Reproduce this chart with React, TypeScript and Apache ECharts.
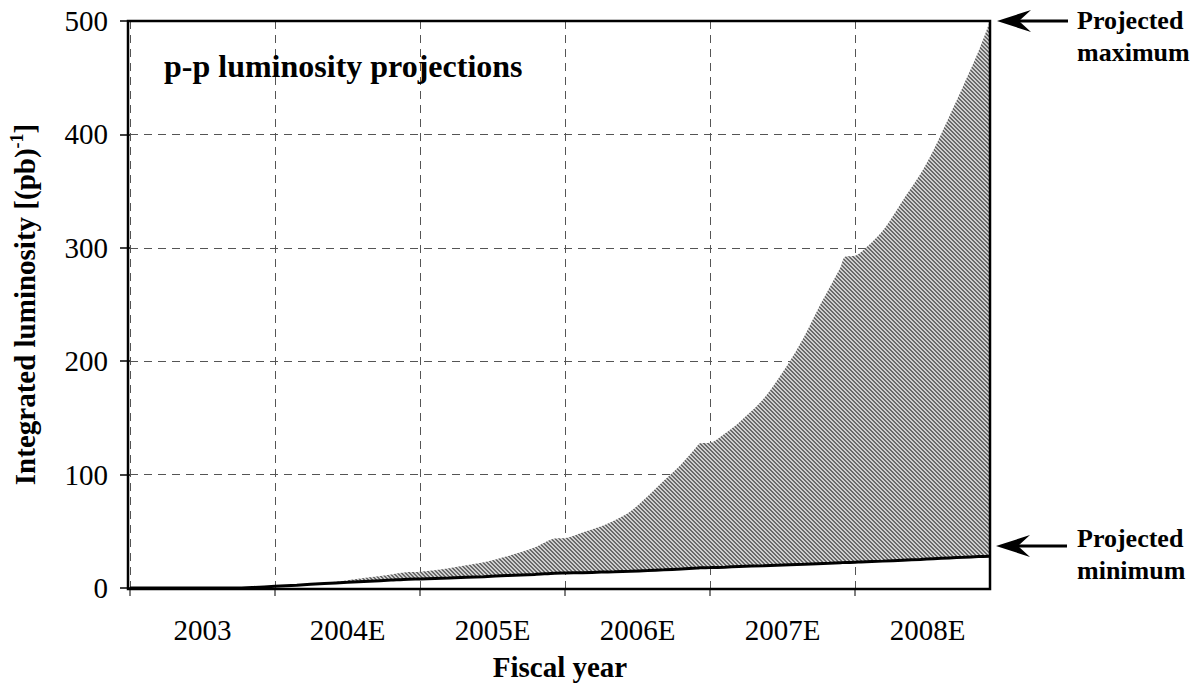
import React, { useEffect, useRef } from 'react';
import * as echarts from 'echarts';

// Fiscal-year axis: 0 = start of FY2003, 1 unit = one fiscal year
const fiscalYears = ['2003', '2004E', '2005E', '2006E', '2007E', '2008E'];
const yearBoundaries = [0, 1, 2, 3, 4, 5];
const yearCenters = [0.5, 1.5, 2.5, 3.5, 4.5, 5.5];
const xEnd = 5.93;

// sample times (fiscal years since start of FY2003)
const years = [
  0, 0.72, 0.85, 1.0, 1.15, 1.34, 1.5, 1.65, 1.8, 1.92,
  2.0, 2.2, 2.44, 2.6, 2.79, 2.93, 3.0, 3.12, 3.25, 3.34,
  3.45, 3.57, 3.68, 3.8, 3.91, 3.93, 4.0, 4.1, 4.2, 4.37,
  4.55, 4.65, 4.74, 4.82, 4.9, 4.93, 5.0, 5.04, 5.19, 5.33,
  5.45, 5.54, 5.65, 5.75, 5.85, 5.93,
];

// projected maximum integrated luminosity (pb^-1)
const maxLum = [
  0, 0, 0.8, 2, 3, 4.5, 6.8, 9.4, 12, 14,
  14.4, 17.5, 22.6, 28, 35.8, 43.7, 44, 49, 54.5, 59.5,
  67.5, 81, 94.5, 109, 125, 127.6, 128, 136, 146, 167,
  200, 222, 245, 264, 283, 292, 293, 296, 315, 342,
  365, 386, 416, 444, 473, 500,
];

// projected minimum integrated luminosity (pb^-1)
const minLum = [
  0, 0, 0.5, 1.5, 2.5, 4, 5, 6, 7, 7.8,
  8, 8.8, 10, 11, 12, 13, 13.2, 13.5, 14, 14.3,
  14.8, 15.4, 16, 16.8, 17.6, 17.8, 18, 18.4, 19, 19.7,
  20.6, 21, 21.4, 21.8, 22.3, 22.5, 22.7, 23, 23.7, 24.5,
  25.2, 25.8, 26.5, 27.1, 27.7, 28,
];

const yMin = 0;
const yMax = 500;
const yStep = 100;

const W = 1193;
const H = 686;
const G = { left: 128, right: 203, top: 21, bottom: 97 };

function makeHatch(): any {
  const c = document.createElement('canvas');
  c.width = 4;
  c.height = 4;
  const ctx = c.getContext('2d');
  if (!ctx) return '#9c9c9c';
  ctx.fillStyle = '#cfcfcf';
  ctx.fillRect(0, 0, 4, 4);
  ctx.fillStyle = '#6a6a6a';
  for (let y = 0; y < 4; y++) {
    for (let x = 0; x < 4; x++) {
      if (((x - y + 8) % 4) < 2) ctx.fillRect(x, y, 1, 1);
    }
  }
  return { image: c, repeat: 'repeat' };
}

export default function App() {
  const ref = useRef<HTMLDivElement>(null);

  useEffect(() => {
    if (!ref.current) return;
    const chart = echarts.init(ref.current, null, { renderer: 'svg' });
    const serif = 'Liberation Serif';

    // rows are [value, year] so that the stack is computed on the value (y) dimension
    const baseData = years.map((x, i) => [minLum[i], x]);
    const bandData = years.map((x, i) => [maxLum[i] - minLum[i], x]);

    const gw = W - G.left - G.right;
    const gh = H - G.top - G.bottom;

    chart.setOption({
      animation: false,
      backgroundColor: '#ffffff',
      textStyle: { fontFamily: serif },
      grid: { left: G.left, right: G.right, top: G.top, bottom: G.bottom, show: false },
      xAxis: {
        type: 'value',
        min: 0,
        max: xEnd,
        axisLine: { show: false },
        axisTick: {
          show: true,
          customValues: yearBoundaries,
          length: 8,
          lineStyle: { color: '#555', width: 1.5 },
        },
        axisLabel: {
          customValues: yearCenters,
          formatter: (v: number) => fiscalYears[Math.floor(v)] ?? '',
          fontFamily: serif,
          fontSize: 29,
          color: '#000',
          margin: 27,
        },
        splitLine: {
          show: true,
          lineStyle: { type: [8, 6], color: '#555', width: 1 },
        },
        name: 'Fiscal year',
        nameLocation: 'middle',
        nameGap: 64,
        nameTextStyle: { fontFamily: serif, fontSize: 29, fontWeight: 'bold', color: '#000' },
      },
      yAxis: {
        type: 'value',
        min: yMin,
        max: yMax,
        interval: yStep,
        axisLine: { show: false },
        axisTick: { show: true, length: 10, lineStyle: { color: '#000', width: 1.5 } },
        axisLabel: { fontFamily: serif, fontSize: 29, color: '#000', margin: 22 },
        splitLine: { show: true, lineStyle: { type: [8, 6], color: '#555', width: 1 } },
        name: '{m|Integrated luminosity [(pb)}{s|-1}{m|]}',
        nameLocation: 'middle',
        nameGap: 88,
        nameRotate: 90,
        nameTextStyle: {
          color: '#000',
          rich: {
            m: { fontFamily: serif, fontSize: 29, fontWeight: 'bold', lineHeight: 34, color: '#000' },
            s: { fontFamily: serif, fontSize: 18, fontWeight: 'bold', lineHeight: 18, verticalAlign: 'top', color: '#000' },
          },
        },
      },
      series: [
        {
          name: 'Projected minimum',
          type: 'line',
          stack: 'lum',
          data: baseData,
          encode: { x: 1, y: 0 },
          smooth: 0.3,
          showSymbol: false,
          symbol: 'none',
          z: 4,
          lineStyle: { color: '#000', width: 3 },
        },
        {
          name: 'Projected maximum',
          type: 'line',
          stack: 'lum',
          data: bandData,
          encode: { x: 1, y: 0 },
          smooth: 0.3,
          showSymbol: false,
          symbol: 'none',
          z: 3,
          lineStyle: { width: 0, opacity: 0 },
          areaStyle: { color: makeHatch(), opacity: 1 },
        },
      ],
      graphic: [
        {
          type: 'rect',
          z: 100,
          shape: { x: G.left, y: G.top, width: gw, height: gh },
          style: { fill: 'none', stroke: '#000', lineWidth: 2.5 },
        },
        {
          type: 'text',
          left: 164,
          top: 50,
          z: 100,
          style: { text: 'p-p luminosity projections', font: `bold 32px ${serif}`, fill: '#000' },
        },
        // arrow to projected maximum
        {
          type: 'line',
          z: 100,
          shape: { x1: 1016, y1: 21, x2: 1068, y2: 21 },
          style: { stroke: '#000', lineWidth: 3 },
        },
        {
          type: 'polygon',
          z: 100,
          shape: { points: [[997, 21], [1031, 10], [1019, 21], [1031, 32]] },
          style: { fill: '#000' },
        },
        {
          type: 'text',
          left: 1077,
          top: 4,
          z: 100,
          style: { text: 'Projected\nmaximum', font: `bold 26px ${serif}`, lineHeight: 32, fill: '#000' },
        },
        // arrow to projected minimum
        {
          type: 'line',
          z: 100,
          shape: { x1: 1016, y1: 546, x2: 1067, y2: 546 },
          style: { stroke: '#000', lineWidth: 3 },
        },
        {
          type: 'polygon',
          z: 100,
          shape: { points: [[996, 546], [1030, 535], [1018, 546], [1030, 557]] },
          style: { fill: '#000' },
        },
        {
          type: 'text',
          left: 1077,
          top: 522,
          z: 100,
          style: { text: 'Projected\nminimum', font: `bold 26px ${serif}`, lineHeight: 32, fill: '#000' },
        },
      ],
    });

    return () => {
      chart.dispose();
    };
  }, []);

  return (
    <div
      ref={ref}
      style={{ position: 'fixed', left: 0, top: 0, width: W, height: H, background: '#fff' }}
    />
  );
}
